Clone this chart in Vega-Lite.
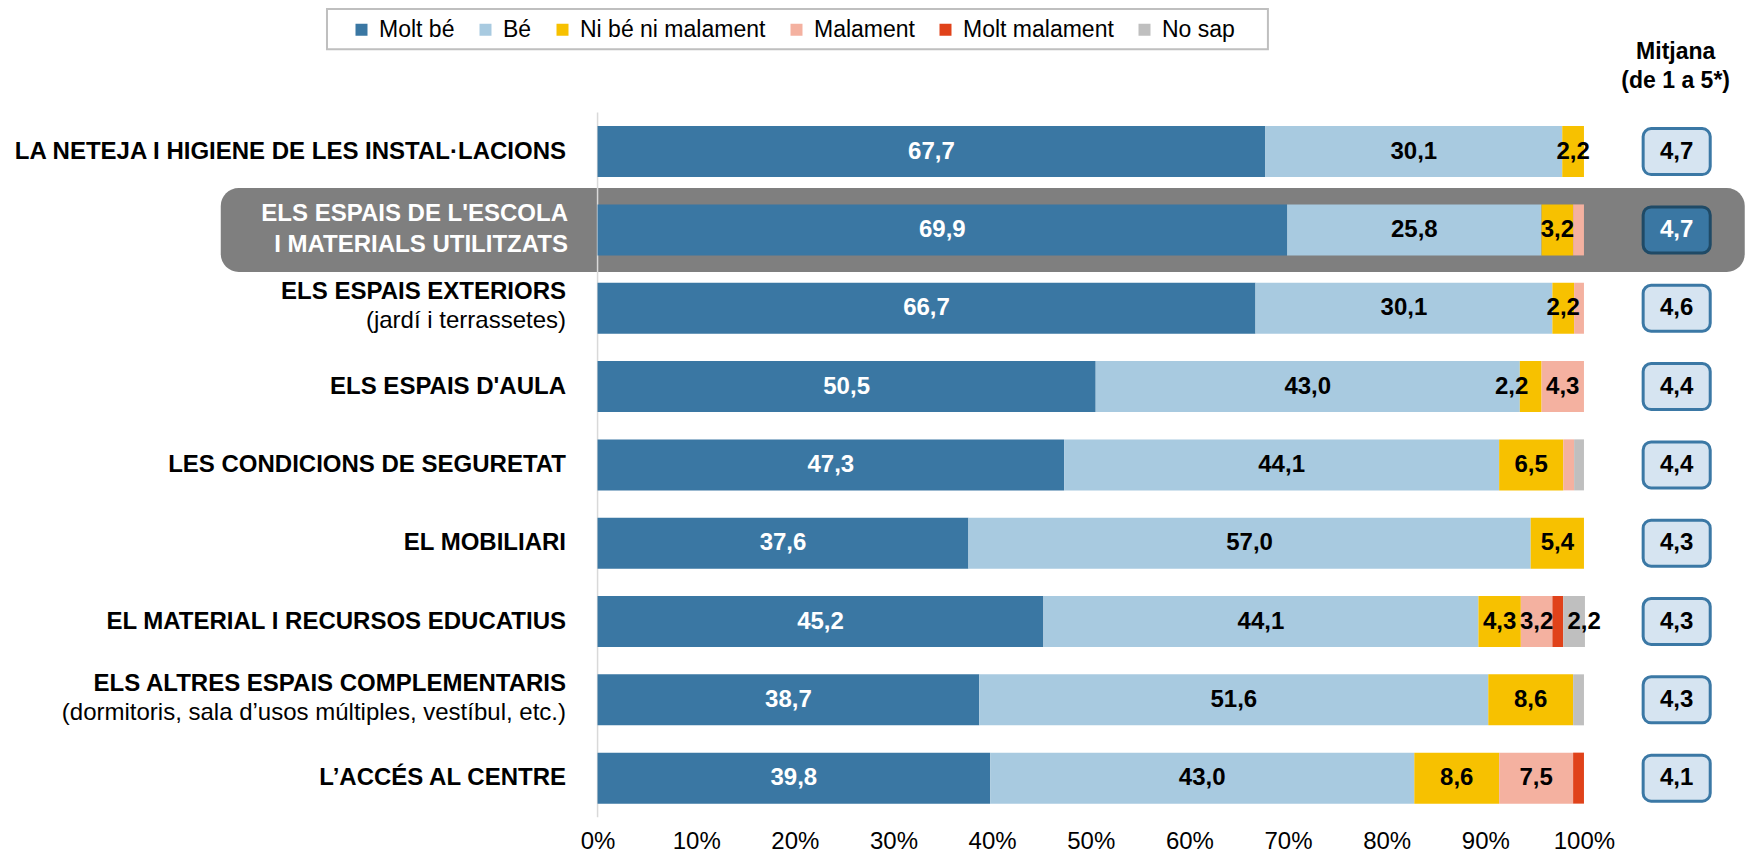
{
  "$schema": "https://vega.github.io/schema/vega-lite/v6.json",
  "width": 1748,
  "height": 857,
  "autosize": "none",
  "padding": 0,
  "background": "white",
  "config": {"view": {"stroke": null}, "font": "Liberation Sans"},
  "datasets": {
    "seg": [
      {"row": 1, "cat": "Molt bé", "value": 67.7},
      {"row": 1, "cat": "Bé", "value": 30.1},
      {"row": 1, "cat": "Ni bé ni malament", "value": 2.2},
      {"row": 2, "cat": "Molt bé", "value": 69.9},
      {"row": 2, "cat": "Bé", "value": 25.8},
      {"row": 2, "cat": "Ni bé ni malament", "value": 3.2},
      {"row": 2, "cat": "Malament", "value": 1.1},
      {"row": 3, "cat": "Molt bé", "value": 66.7},
      {"row": 3, "cat": "Bé", "value": 30.1},
      {"row": 3, "cat": "Ni bé ni malament", "value": 2.2},
      {"row": 3, "cat": "Malament", "value": 1.0},
      {"row": 4, "cat": "Molt bé", "value": 50.5},
      {"row": 4, "cat": "Bé", "value": 43.0},
      {"row": 4, "cat": "Ni bé ni malament", "value": 2.2},
      {"row": 4, "cat": "Malament", "value": 4.3},
      {"row": 5, "cat": "Molt bé", "value": 47.3},
      {"row": 5, "cat": "Bé", "value": 44.1},
      {"row": 5, "cat": "Ni bé ni malament", "value": 6.5},
      {"row": 5, "cat": "Malament", "value": 1.1},
      {"row": 5, "cat": "No sap", "value": 1.0},
      {"row": 6, "cat": "Molt bé", "value": 37.6},
      {"row": 6, "cat": "Bé", "value": 57.0},
      {"row": 6, "cat": "Ni bé ni malament", "value": 5.4},
      {"row": 7, "cat": "Molt bé", "value": 45.2},
      {"row": 7, "cat": "Bé", "value": 44.1},
      {"row": 7, "cat": "Ni bé ni malament", "value": 4.3},
      {"row": 7, "cat": "Malament", "value": 3.2},
      {"row": 7, "cat": "Molt malament", "value": 1.1},
      {"row": 7, "cat": "No sap", "value": 2.2},
      {"row": 8, "cat": "Molt bé", "value": 38.7},
      {"row": 8, "cat": "Bé", "value": 51.6},
      {"row": 8, "cat": "Ni bé ni malament", "value": 8.6},
      {"row": 8, "cat": "No sap", "value": 1.1},
      {"row": 9, "cat": "Molt bé", "value": 39.8},
      {"row": 9, "cat": "Bé", "value": 43.0},
      {"row": 9, "cat": "Ni bé ni malament", "value": 8.6},
      {"row": 9, "cat": "Malament", "value": 7.5},
      {"row": 9, "cat": "Molt malament", "value": 1.1}
    ],
    "items": [
      {"row": 1, "label": "LA NETEJA I HIGIENE DE LES INSTAL·LACIONS", "sub": "", "hl": false, "mean": 4.7},
      {"row": 2, "label": "ELS ESPAIS DE L'ESCOLA", "sub": "I MATERIALS UTILITZATS", "hl": true, "mean": 4.7},
      {"row": 3, "label": "ELS ESPAIS EXTERIORS", "sub": "(jardí i terrassetes)", "hl": false, "mean": 4.6},
      {"row": 4, "label": "ELS ESPAIS  D'AULA", "sub": "", "hl": false, "mean": 4.4},
      {"row": 5, "label": "LES CONDICIONS DE SEGURETAT", "sub": "", "hl": false, "mean": 4.4},
      {"row": 6, "label": "EL  MOBILIARI", "sub": "", "hl": false, "mean": 4.3},
      {"row": 7, "label": "EL MATERIAL I RECURSOS EDUCATIUS", "sub": "", "hl": false, "mean": 4.3},
      {"row": 8, "label": "ELS ALTRES ESPAIS COMPLEMENTARIS", "sub": "(dormitoris, sala d’usos múltiples, vestíbul, etc.)", "hl": false, "mean": 4.3},
      {"row": 9, "label": "L’ACCÉS AL CENTRE", "sub": "", "hl": false, "mean": 4.1}
    ]
  },
  "layer": [
    {
      "data": {"name": "items"},
      "transform": [{"filter": "datum.hl"}],
      "mark": {"type": "bar", "height": 84, "cornerRadius": 18, "fill": "#7F7F7F"},
      "encoding": {
        "x": {"datum": -38.2, "type": "quantitative", "scale": {"domain": [-60.58, 116.63], "nice": false, "zero": false, "padding": 0},
          "axis": {"values": [0, 10, 20, 30, 40, 50, 60, 70, 80, 90, 100], "labelExpr": "datum.value + '%'", "domain": false, "ticks": false, "grid": false, "labelFontSize": 24, "labelFont": "Liberation Sans", "labelColor": "#000000", "labelPadding": -16, "labelBaseline": "middle", "labelOverlap": false, "labelFlush": false, "title": null}},
        "x2": {"datum": 116.3},
        "y": {"field": "row", "type": "quantitative", "scale": {"domain": [-0.936, 10.007], "reverse": true, "nice": false, "zero": false, "padding": 0}, "axis": null}
      }
    },
    {
      "data": {"values": [{}]},
      "mark": {"type": "rule", "color": "#D9D9D9", "strokeWidth": 1.5},
      "encoding": {
        "x": {"datum": 0, "type": "quantitative"},
        "y": {"datum": 0.5, "type": "quantitative"},
        "y2": {"datum": 9.5}
      }
    },
    {
      "data": {"values": [{}]},
      "mark": {"type": "rect", "fill": "white", "stroke": "#BFBFBF", "strokeWidth": 2},
      "encoding": {
        "x": {"datum": -27.43, "type": "quantitative"},
        "x2": {"datum": 67.96},
        "y": {"datum": -0.821, "type": "quantitative"},
        "y2": {"datum": -0.3065}
      }
    },
    {
      "data": {"name": "seg"},
      "transform": [
        {"calculate": "indexof(['Molt bé','Bé','Ni bé ni malament','Malament','Molt malament','No sap'], datum.cat)", "as": "ord"},
        {"stack": "value", "groupby": ["row"], "sort": [{"field": "ord", "order": "ascending"}], "as": ["x0", "x1"]}
      ],
      "mark": {"type": "bar", "height": 51},
      "encoding": {
        "x": {"field": "x0", "type": "quantitative"},
        "x2": {"field": "x1"},
        "y": {"field": "row", "type": "quantitative"},
        "color": {
          "field": "cat", "type": "nominal",
          "scale": {"domain": ["Molt bé", "Bé", "Ni bé ni malament", "Malament", "Molt malament", "No sap"],
                    "range": ["#3A77A3", "#A8CAE0", "#F7C100", "#F4B1A0", "#E0421A", "#BFBFBF"]},
          "legend": {"orient": "none", "legendX": 350, "legendY": 18, "direction": "horizontal", "title": null,
                     "symbolType": "square", "symbolSize": 144, "symbolStrokeWidth": 0, "labelFontSize": 23, "labelLimit": 400,
                     "labelFont": "Liberation Sans", "labelColor": "#000000", "columnPadding": 19, "labelOffset": 6, "padding": 0}
        }
      }
    },
    {
      "data": {"name": "seg"},
      "transform": [
        {"calculate": "indexof(['Molt bé','Bé','Ni bé ni malament','Malament','Molt malament','No sap'], datum.cat)", "as": "ord"},
        {"stack": "value", "groupby": ["row"], "sort": [{"field": "ord", "order": "ascending"}], "as": ["x0", "x1"]},
        {"filter": "datum.value >= 2 && !(datum.row === 4 && datum.cat === 'Ni bé ni malament') && !(datum.row === 7 && datum.cat === 'No sap')"},
        {"calculate": "(datum.x0 + datum.x1) / 2", "as": "mid"},
        {"calculate": "replace(format(datum.value, '.1f'), '.', ',')", "as": "lbl"}
      ],
      "mark": {"type": "text", "fontSize": 24, "fontWeight": "bold", "font": "Liberation Sans", "baseline": "middle", "align": "center"},
      "encoding": {
        "x": {"field": "mid", "type": "quantitative"},
        "y": {"field": "row", "type": "quantitative"},
        "text": {"field": "lbl"},
        "fill": {"condition": {"test": "datum.cat === 'Molt bé'", "value": "#FFFFFF"}, "value": "#000000"}
      }
    },
    {
      "data": {"name": "seg"},
      "transform": [
        {"calculate": "indexof(['Molt bé','Bé','Ni bé ni malament','Malament','Molt malament','No sap'], datum.cat)", "as": "ord"},
        {"stack": "value", "groupby": ["row"], "sort": [{"field": "ord", "order": "ascending"}], "as": ["x0", "x1"]},
        {"filter": "datum.row === 4 && datum.cat === 'Ni bé ni malament'"},
        {"calculate": "(datum.x0 + datum.x1) / 2", "as": "mid"},
        {"calculate": "replace(format(datum.value, '.1f'), '.', ',')", "as": "lbl"}
      ],
      "mark": {"type": "text", "fontSize": 24, "fontWeight": "bold", "font": "Liberation Sans", "baseline": "middle", "align": "center", "dx": -19, "fill": "#000000"},
      "encoding": {
        "x": {"field": "mid", "type": "quantitative"},
        "y": {"field": "row", "type": "quantitative"},
        "text": {"field": "lbl"}
      }
    },
    {
      "data": {"name": "seg"},
      "transform": [
        {"calculate": "indexof(['Molt bé','Bé','Ni bé ni malament','Malament','Molt malament','No sap'], datum.cat)", "as": "ord"},
        {"stack": "value", "groupby": ["row"], "sort": [{"field": "ord", "order": "ascending"}], "as": ["x0", "x1"]},
        {"filter": "datum.row === 7 && datum.cat === 'No sap'"},
        {"calculate": "(datum.x0 + datum.x1) / 2", "as": "mid"},
        {"calculate": "replace(format(datum.value, '.1f'), '.', ',')", "as": "lbl"}
      ],
      "mark": {"type": "text", "fontSize": 24, "fontWeight": "bold", "font": "Liberation Sans", "baseline": "middle", "align": "center", "dx": 10, "fill": "#000000"},
      "encoding": {
        "x": {"field": "mid", "type": "quantitative"},
        "y": {"field": "row", "type": "quantitative"},
        "text": {"field": "lbl"}
      }
    },
    {
      "data": {"name": "items"},
      "transform": [{"filter": "datum.sub === ''"}],
      "mark": {"type": "text", "fontSize": 24, "fontWeight": "bold", "align": "right", "baseline": "middle", "fill": "#000000"},
      "encoding": {
        "x": {"datum": -3.2, "type": "quantitative"},
        "y": {"field": "row", "type": "quantitative"},
        "text": {"field": "label"}
      }
    },
    {
      "data": {"name": "items"},
      "transform": [{"filter": "datum.sub !== '' && !datum.hl"}],
      "mark": {"type": "text", "fontSize": 24, "fontWeight": "bold", "align": "right", "baseline": "middle", "fill": "#000000", "dy": -16},
      "encoding": {
        "x": {"datum": -3.2, "type": "quantitative"},
        "y": {"field": "row", "type": "quantitative"},
        "text": {"field": "label"}
      }
    },
    {
      "data": {"name": "items"},
      "transform": [{"filter": "datum.sub !== '' && !datum.hl"}],
      "mark": {"type": "text", "fontSize": 24, "fontWeight": "normal", "align": "right", "baseline": "middle", "fill": "#000000", "dy": 13},
      "encoding": {
        "x": {"datum": -3.2, "type": "quantitative"},
        "y": {"field": "row", "type": "quantitative"},
        "text": {"field": "sub"}
      }
    },
    {
      "data": {"name": "items"},
      "transform": [{"filter": "datum.hl"}],
      "mark": {"type": "text", "fontSize": 24, "fontWeight": "bold", "align": "right", "baseline": "middle", "fill": "#FFFFFF", "dy": -15.5},
      "encoding": {
        "x": {"datum": -3.0, "type": "quantitative"},
        "y": {"field": "row", "type": "quantitative"},
        "text": {"field": "label"}
      }
    },
    {
      "data": {"name": "items"},
      "transform": [{"filter": "datum.hl"}],
      "mark": {"type": "text", "fontSize": 24, "fontWeight": "bold", "align": "right", "baseline": "middle", "fill": "#FFFFFF", "dy": 15.5},
      "encoding": {
        "x": {"datum": -3.0, "type": "quantitative"},
        "y": {"field": "row", "type": "quantitative"},
        "text": {"field": "sub"}
      }
    },
    {
      "data": {"name": "items"},
      "mark": {"type": "bar", "height": 46, "cornerRadius": 8, "strokeWidth": 3},
      "encoding": {
        "x": {"datum": 106.0, "type": "quantitative"},
        "x2": {"datum": 112.8},
        "y": {"field": "row", "type": "quantitative"},
        "fill": {"condition": {"test": "datum.hl", "value": "#3A77A3"}, "value": "#D6E4F1"},
        "stroke": {"condition": {"test": "datum.hl", "value": "#1F4A66"}, "value": "#3B78A5"}
      }
    },
    {
      "data": {"name": "items"},
      "transform": [{"calculate": "replace(format(datum.mean, '.1f'), '.', ',')", "as": "m"}],
      "mark": {"type": "text", "fontSize": 24, "fontWeight": "bold", "align": "center", "baseline": "middle"},
      "encoding": {
        "x": {"datum": 109.4, "type": "quantitative"},
        "y": {"field": "row", "type": "quantitative"},
        "text": {"field": "m"},
        "fill": {"condition": {"test": "datum.hl", "value": "#FFFFFF"}, "value": "#000000"}
      }
    },
    {
      "data": {"values": [{}]},
      "mark": {"type": "text", "text": ["Mitjana", "(de 1 a 5*)"], "fontSize": 23, "fontWeight": "bold", "align": "center", "baseline": "middle", "lineHeight": 29, "fill": "#000000"},
      "encoding": {
        "x": {"datum": 109.3, "type": "quantitative"},
        "y": {"datum": -0.272, "type": "quantitative"}
      }
    }
  ]
}
